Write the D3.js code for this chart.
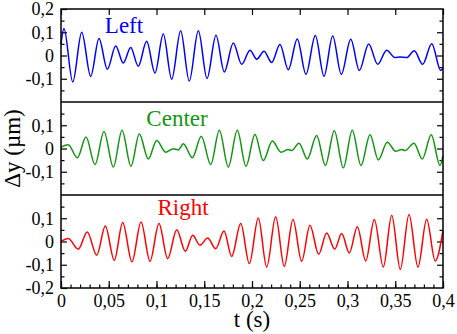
<!DOCTYPE html>
<html>
<head>
  <meta charset="UTF-8">
  <style>
    body { margin: 0; background: #fff; }
  </style>
</head>
<body>
<svg></svg>
<script src="https://d3js.org/d3.v7.min.js"></script>
<script>

let width = 457, height = 334;

// peaks and troughs, t in seconds, dy in um
const tLeft = [0, .0031, .0123, .0217, .0311, .0398, .0485, .0573, .0652, .0730, .0809, .0897, .0984, .1071, .1159, .1253, .1343, .1438, .1529, .1623, .1710, .1804, .1892, .1979, .2049, .2126, .2206, .2293, .2380, .2474, .2565, .2663, .2754, .2845, .2935, .3034, .3124, .3222, .3316, .3410, .3497, .3550, .3620, .3699, .3787, .3882, .3976, .4];
const yLeft = [0.05, 0.116, -0.114, 0.10, -0.09, 0.073, -0.059, 0.041, -0.032, 0.034, -0.046, 0.061, -0.075, 0.092, -0.102, 0.106, -0.11, 0.106, -0.099, 0.087, -0.071, 0.054, -0.038, 0.023, -0.016, 0.018, -0.030, 0.047, -0.061, 0.071, -0.081, 0.086, -0.089, 0.084, -0.081, 0.070, -0.064, 0.050, -0.038, 0.023, -0.009, -0.006, -0.009, 0.020, -0.038, 0.051, -0.064, -0.055];

const tCenter = [0, .0076, .0171, .0262, .0356, .0450, .0548, .0639, .0733, .0820, .0914, .1002, .1096, .1176, .1228, .1281, .1375, .1469, .1568, .1658, .1752, .1846, .1937, .2031, .2118, .2213, .2304, .2380, .2416, .2492, .2579, .2677, .2768, .2862, .2956, .3050, .3141, .3236, .3323, .3417, .3505, .3567, .3602, .3696, .3783, .3877, .3969, .4];
const yCenter = [0.006, 0.016, -0.040, 0.049, -0.069, 0.073, -0.080, 0.078, -0.076, 0.062, -0.045, 0.034, -0.016, -0.001, -0.006, 0.020, -0.040, 0.053, -0.069, 0.078, -0.080, 0.078, -0.076, 0.060, -0.052, 0.032, -0.016, -0.004, -0.009, 0.023, -0.045, 0.056, -0.073, 0.076, -0.083, 0.078, -0.073, 0.059, -0.049, 0.027, -0.012, -0.004, -0.009, 0.023, -0.045, 0.059, -0.073, -0.03];

const tRight = [0, .0076, .0181, .0275, .0374, .0464, .0558, .0646, .0743, .0838, .0932, .1026, .1117, .1212, .1302, .1379, .1455, .1536, .1620, .1707, .1787, .1882, .1972, .2066, .2154, .2248, .2338, .2429, .2520, .2607, .2698, .2782, .2866, .2939, .3019, .3103, .3191, .3281, .3375, .3463, .3553, .3644, .3738, .3829, .3919, .4];
const yRight = [0, 0.013, -0.033, 0.041, -0.059, 0.067, -0.081, 0.082, -0.088, 0.084, -0.085, 0.077, -0.074, 0.051, -0.042, 0.027, -0.016, 0.015, -0.031, 0.045, -0.064, 0.077, -0.095, 0.101, -0.110, 0.106, -0.107, 0.095, -0.085, 0.070, -0.055, 0.037, -0.033, 0.034, -0.049, 0.063, -0.084, 0.095, -0.110, 0.113, -0.120, 0.116, -0.110, 0.096, -0.084, 0.048];

const panelNames = ["Left", "Center", "Right"];
const panelColors = ["#0000ff", "#129612", "#ff0000"];
const yLabelsTop = [0.2, 0.1, 0, -0.1];
const yLabelsMid = [0.1, 0, -0.1];
const yLabelsBot = [0.1, 0, -0.1, -0.2];
const xLabels = [0, 0.05, 0.1, 0.15, 0.2, 0.25, 0.3, 0.35, 0.4];

const serif = "'Liberation Serif', 'Times New Roman', serif";

const margin = {left: 61, right: 14, top: 9, bottom: 46};
const plotW = width - margin.left - margin.right;
const plotH = height - margin.top - margin.bottom;
const panelH = plotH / 3;

let svg = d3.select("svg")
    .attr("width", width)
    .attr("height", height);

let x = d3.scaleLinear().domain([0, 0.4]).range([margin.left, margin.left + plotW]);

const fmt = d => String(d).replace(".", ",");

const panels = [
  {t: tLeft, y: yLeft, labels: yLabelsTop, lx: 124, ly: 33},
  {t: tCenter, y: yCenter, labels: yLabelsMid, lx: 177, ly: 126},
  {t: tRight, y: yRight, labels: yLabelsBot, lx: 183, ly: 215}
];

panels.forEach((p, i) => {
  let top = margin.top + i * panelH;
  let y = d3.scaleLinear().domain([-0.2, 0.2]).range([top + panelH, top]);

  // minor y ticks both sides
  svg.append("g")
    .attr("transform", `translate(${margin.left},0)`)
    .call(d3.axisLeft(y).tickValues([-0.15, -0.05, 0.05, 0.15]).tickSize(-3.5).tickFormat(""));
  svg.append("g")
    .attr("transform", `translate(${margin.left + plotW},0)`)
    .call(d3.axisRight(y).tickValues([-0.15, -0.05, 0.05, 0.15]).tickSize(-3.5).tickFormat(""));
  svg.append("g")
    .attr("transform", `translate(${margin.left + plotW},0)`)
    .call(d3.axisRight(y).tickValues([-0.1, 0, 0.1]).tickSize(-6).tickFormat(""));

  // labelled ticks on the left
  svg.append("g")
    .attr("class", "ylab")
    .attr("transform", `translate(${margin.left},0)`)
    .call(d3.axisLeft(y).tickValues(p.labels).tickSize(-6).tickPadding(7).tickFormat(fmt));

  let line = d3.line()
    .x((d, k) => x(p.t[k]))
    .y(d => y(d))
    .curve(d3.curveMonotoneX);

  svg.append("path")
    .datum(p.y)
    .attr("d", line)
    .attr("fill", "none")
    .attr("stroke", panelColors[i])
    .attr("stroke-width", 1.5);

  svg.append("text")
    .attr("x", p.lx)
    .attr("y", p.ly)
    .attr("text-anchor", "middle")
    .attr("fill", panelColors[i])
    .style("font-size", "23px")
    .text(panelNames[i]);

  if (i > 0) {
    svg.append("line")
      .attr("x1", margin.left).attr("x2", margin.left + plotW)
      .attr("y1", top).attr("y2", top)
      .attr("stroke", "#000")
      .attr("stroke-width", 1.5);
  }
});

// x axes
let bottomY = margin.top + plotH;
svg.append("g")
  .attr("transform", `translate(0,${bottomY})`)
  .call(d3.axisBottom(x).tickValues(d3.range(0, 41).map(k => k / 100)).tickSize(-3.5).tickFormat(""));
svg.append("g")
  .attr("class", "xlab")
  .attr("transform", `translate(0,${bottomY})`)
  .call(d3.axisBottom(x).tickValues(xLabels).tickSize(-7).tickPadding(6).tickFormat(fmt));
svg.append("g")
  .attr("transform", `translate(0,${margin.top})`)
  .call(d3.axisTop(x).tickValues(xLabels).tickSize(-6).tickFormat(""));

svg.selectAll(".domain").remove();
svg.selectAll(".tick line").attr("stroke", "#000").attr("stroke-width", 1.2);
svg.selectAll(".ylab text, .xlab text")
  .attr("fill", "#000")
  .style("font-size", "18px");

// frame
svg.append("rect")
  .attr("x", margin.left).attr("y", margin.top)
  .attr("width", plotW).attr("height", plotH)
  .attr("fill", "none")
  .attr("stroke", "#000")
  .attr("stroke-width", 1.5);

// axis titles
svg.append("text")
  .attr("x", margin.left + plotW / 2)
  .attr("y", 327)
  .attr("text-anchor", "middle")
  .style("font-size", "23px")
  .text("t (s)");

svg.append("text")
  .attr("transform", `translate(20,${margin.top + plotH / 2}) rotate(-90)`)
  .attr("text-anchor", "middle")
  .style("font-size", "23px")
  .text("Δy (µm)");

svg.selectAll("text").style("font-family", serif);

</script>
</body>
</html>
